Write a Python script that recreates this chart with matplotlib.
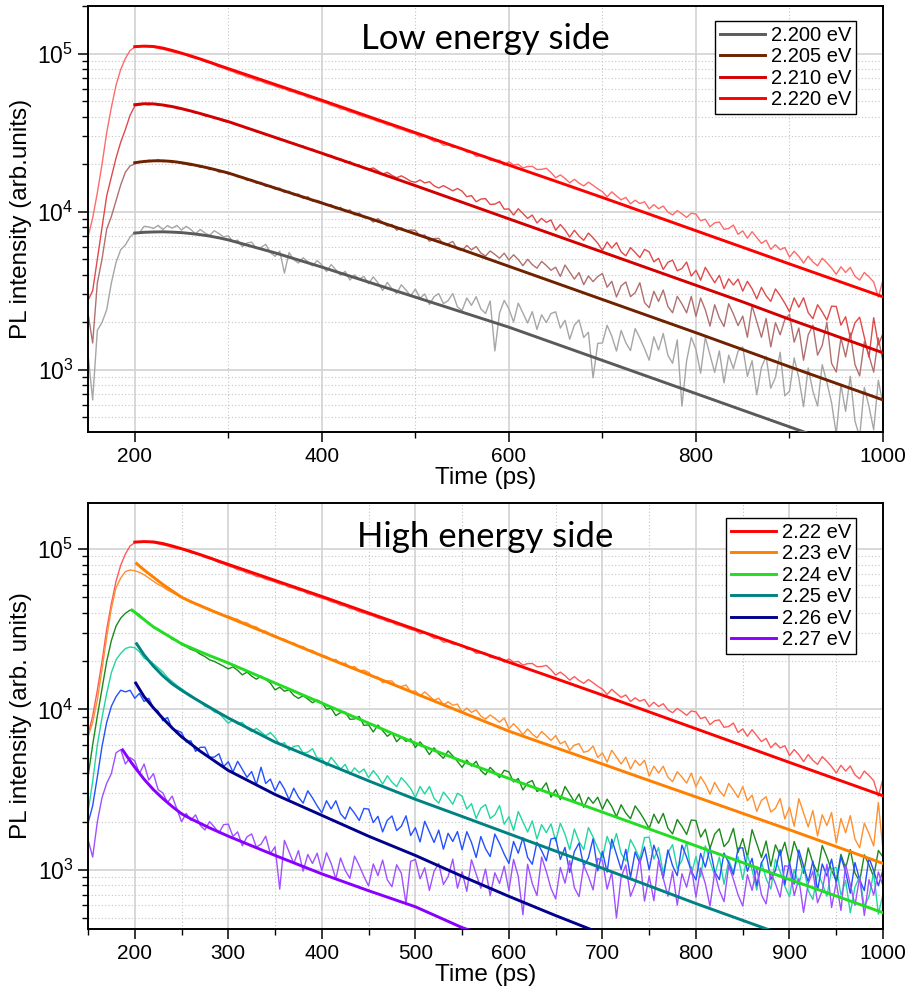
import numpy as np
import matplotlib
matplotlib.use("Agg")
import matplotlib.pyplot as plt
from matplotlib.ticker import LogLocator, NullFormatter, MultipleLocator

plt.rcParams['font.family'] = ['Liberation Sans', 'DejaVu Sans']

# -------------------------------------------------------------
# Data (intensities stored as log10 values)
# -------------------------------------------------------------
t_ps = np.arange(150, 1001, 5)   # streak-camera time grid (ps)

# measured traces, one row = 50 ps
log_data_2220 = [
    3.84, 3.96, 4.12, 4.30, 4.50, 4.66, 4.80, 4.90, 4.97, 5.02,
    5.040, 5.045, 5.045, 5.043, 5.040, 5.033, 5.027, 5.020, 5.011, 5.004,
    4.998, 4.990, 4.978, 4.970, 4.962, 4.948, 4.940, 4.930, 4.916, 4.908,
    4.895, 4.886, 4.872, 4.866, 4.851, 4.845, 4.830, 4.826, 4.812, 4.805,
    4.795, 4.783, 4.778, 4.762, 4.757, 4.744, 4.738, 4.722, 4.717, 4.703,
    4.694, 4.686, 4.672, 4.665, 4.650, 4.645, 4.630, 4.624, 4.610, 4.602,
    4.592, 4.583, 4.570, 4.563, 4.549, 4.544, 4.528, 4.522, 4.510, 4.499,
    4.493, 4.472, 4.480, 4.462, 4.444, 4.445, 4.420, 4.424, 4.408, 4.407,
    4.401, 4.377, 4.376, 4.350, 4.354, 4.351, 4.326, 4.322, 4.326, 4.295,
    4.316, 4.296, 4.300, 4.277, 4.286, 4.287, 4.267, 4.268, 4.275, 4.248,
    4.215, 4.233, 4.211, 4.183, 4.205, 4.181, 4.163, 4.187, 4.167, 4.145,
    4.127, 4.094, 4.126, 4.100, 4.075, 4.091, 4.050, 4.073, 4.052, 4.063,
    4.018, 4.045, 4.019, 4.036, 3.998, 3.980, 4.007, 3.987, 3.964, 3.991,
    3.985, 3.943, 3.953, 3.905, 3.930, 3.935, 3.889, 3.894, 3.916, 3.857,
    3.879, 3.833, 3.874, 3.837, 3.800, 3.820, 3.762, 3.791, 3.760, 3.774,
    3.713, 3.750, 3.718, 3.675, 3.719, 3.683, 3.658, 3.706, 3.677, 3.644,
    3.604, 3.652, 3.616, 3.648, 3.592, 3.568, 3.616, 3.588, 3.556, 3.460,
    3.570]

log_data_2210 = [
    3.44, 3.50, 3.70, 3.90, 4.10, 4.22, 4.34, 4.44, 4.52, 4.61,
    4.668, 4.675, 4.680, 4.676, 4.684, 4.672, 4.674, 4.664, 4.667, 4.652,
    4.650, 4.640, 4.638, 4.624, 4.622, 4.606, 4.606, 4.590, 4.589, 4.572,
    4.566, 4.558, 4.546, 4.541, 4.526, 4.521, 4.505, 4.502, 4.486, 4.478,
    4.468, 4.455, 4.452, 4.436, 4.434, 4.418, 4.415, 4.398, 4.396, 4.378,
    4.372, 4.354, 4.356, 4.334, 4.335, 4.312, 4.318, 4.292, 4.296, 4.274,
    4.269, 4.277, 4.259, 4.238, 4.249, 4.230, 4.215, 4.227, 4.211, 4.193,
    4.186, 4.201, 4.182, 4.190, 4.164, 4.150, 4.165, 4.149, 4.132, 4.147,
    4.130, 4.095, 4.102, 4.063, 4.080, 4.083, 4.046, 4.048, 4.064, 4.016,
    4.018, 3.979, 4.019, 3.988, 3.958, 3.979, 3.929, 3.958, 3.933, 3.948,
    3.883, 3.919, 3.885, 3.840, 3.883, 3.846, 3.819, 3.865, 3.835, 3.801,
    3.756, 3.809, 3.770, 3.805, 3.746, 3.721, 3.773, 3.743, 3.710, 3.762,
    3.746, 3.683, 3.706, 3.635, 3.680, 3.694, 3.627, 3.641, 3.682, 3.593,
    3.630, 3.567, 3.648, 3.600, 3.551, 3.598, 3.514, 3.576, 3.537, 3.574,
    3.498, 3.560, 3.513, 3.449, 3.522, 3.469, 3.433, 3.512, 3.470, 3.422,
    3.367, 3.455, 3.396, 3.456, 3.362, 3.324, 3.412, 3.367, 3.315, 3.403,
    3.401, 3.283, 3.336, 3.200, 3.298, 3.333, 3.206, 3.080, 3.330, 3.158,
    3.230]

log_data_2205 = [
    3.36, 3.17, 3.55, 3.70, 3.89, 3.97, 4.07, 4.17, 4.25, 4.29,
    4.302, 4.318, 4.312, 4.326, 4.318, 4.330, 4.316, 4.322, 4.310, 4.318,
    4.305, 4.300, 4.292, 4.298, 4.280, 4.285, 4.266, 4.272, 4.250, 4.255,
    4.238, 4.240, 4.220, 4.222, 4.198, 4.204, 4.180, 4.186, 4.160, 4.166,
    4.142, 4.150, 4.122, 4.130, 4.105, 4.112, 4.084, 4.095, 4.066, 4.072,
    4.060, 4.040, 4.045, 4.018, 4.028, 4.000, 4.012, 3.980, 3.992, 3.962,
    3.963, 3.934, 3.957, 3.933, 3.909, 3.920, 3.883, 3.899, 3.878, 3.885,
    3.882, 3.846, 3.853, 3.813, 3.830, 3.832, 3.795, 3.797, 3.812, 3.763,
    3.755, 3.787, 3.759, 3.780, 3.739, 3.720, 3.752, 3.730, 3.706, 3.738,
    3.694, 3.728, 3.698, 3.659, 3.699, 3.666, 3.643, 3.686, 3.660, 3.630,
    3.649, 3.591, 3.663, 3.619, 3.574, 3.615, 3.539, 3.594, 3.558, 3.590,
    3.609, 3.523, 3.560, 3.461, 3.531, 3.556, 3.463, 3.488, 3.551, 3.426,
    3.393, 3.497, 3.433, 3.505, 3.401, 3.361, 3.465, 3.417, 3.361, 3.465,
    3.338, 3.454, 3.380, 3.277, 3.412, 3.329, 3.274, 3.418, 3.354, 3.280,
    3.340, 3.206, 3.405, 3.306, 3.206, 3.325, 3.145, 3.299, 3.222, 3.318,
    3.351, 3.175, 3.265, 3.061, 3.221, 3.283, 3.093, 3.155, 3.301, 3.041,
    2.986, 3.202, 3.082, 3.234, 3.034, 2.962, 3.178, 3.090, 2.986, 3.202,
    3.050]

log_data_2200 = [
    3.10, 2.81, 3.25, 3.30, 3.38, 3.55, 3.68, 3.76, 3.79, 3.84,
    3.870, 3.866, 3.908, 3.904, 3.894, 3.914, 3.887, 3.912, 3.896, 3.913,
    3.884, 3.908, 3.887, 3.860, 3.888, 3.866, 3.850, 3.880, 3.862, 3.841,
    3.848, 3.811, 3.821, 3.779, 3.802, 3.808, 3.768, 3.774, 3.794, 3.742,
    3.718, 3.751, 3.612, 3.742, 3.697, 3.676, 3.709, 3.685, 3.658, 3.691,
    3.664, 3.622, 3.666, 3.633, 3.599, 3.623, 3.568, 3.601, 3.573, 3.591,
    3.545, 3.588, 3.551, 3.502, 3.553, 3.512, 3.483, 3.538, 3.505, 3.468,
    3.511, 3.453, 3.480, 3.413, 3.463, 3.482, 3.419, 3.438, 3.483, 3.398,
    3.376, 3.455, 3.408, 3.463, 3.386, 3.357, 3.436, 3.120, 3.360, 3.439,
    3.386, 3.303, 3.422, 3.360, 3.297, 3.368, 3.256, 3.348, 3.299, 3.356,
    3.367, 3.264, 3.313, 3.194, 3.283, 3.316, 3.205, 3.238, 2.950, 3.168,
    3.170, 3.282, 3.214, 3.119, 3.249, 3.172, 3.122, 3.261, 3.202, 3.134,
    3.061, 3.209, 3.126, 3.230, 3.092, 3.042, 3.190, 2.770, 3.057, 3.205,
    3.129, 2.979, 3.206, 3.095, 2.984, 3.120, 2.918, 3.093, 3.008, 3.118,
    3.145, 2.959, 3.058, 2.842, 3.016, 3.085, 2.884, 2.953, 3.112, 2.836,
    2.865, 3.076, 2.947, 2.767, 3.012, 2.866, 2.771, 3.033, 2.921, 2.792,
    2.593, 2.907, 2.738, 2.960, 2.676, 2.576, 2.890, 2.767, 2.621, 2.935,
    2.780]

log_data_2230 = [
    3.83, 3.92, 4.06, 4.25, 4.45, 4.63, 4.76, 4.82, 4.86, 4.87,
    4.865, 4.855, 4.840, 4.820, 4.800, 4.780, 4.765, 4.745, 4.730, 4.715,
    4.702, 4.688, 4.676, 4.662, 4.652, 4.638, 4.628, 4.612, 4.604, 4.588,
    4.582, 4.570, 4.562, 4.545, 4.540, 4.521, 4.515, 4.495, 4.488, 4.470,
    4.462, 4.445, 4.438, 4.420, 4.415, 4.395, 4.392, 4.372, 4.368, 4.350,
    4.340, 4.330, 4.310, 4.312, 4.285, 4.290, 4.262, 4.268, 4.240, 4.245,
    4.231, 4.200, 4.202, 4.167, 4.179, 4.178, 4.144, 4.143, 4.153, 4.111,
    4.116, 4.084, 4.110, 4.084, 4.058, 4.070, 4.030, 4.048, 4.026, 4.034,
    3.983, 4.009, 3.982, 3.998, 3.959, 3.940, 3.966, 3.945, 3.921, 3.947,
    3.880, 3.911, 3.881, 3.843, 3.879, 3.847, 3.823, 3.863, 3.836, 3.807,
    3.837, 3.786, 3.802, 3.745, 3.778, 3.787, 3.733, 3.742, 3.772, 3.701,
    3.729, 3.672, 3.746, 3.703, 3.660, 3.703, 3.628, 3.684, 3.650, 3.684,
    3.585, 3.647, 3.604, 3.646, 3.578, 3.550, 3.612, 3.579, 3.541, 3.603,
    3.518, 3.581, 3.535, 3.472, 3.546, 3.494, 3.459, 3.539, 3.498, 3.451,
    3.519, 3.431, 3.466, 3.365, 3.433, 3.456, 3.361, 3.384, 3.445, 3.318,
    3.390, 3.272, 3.444, 3.356, 3.268, 3.370, 3.212, 3.344, 3.276, 3.358,
    3.167, 3.320, 3.231, 3.338, 3.192, 3.138, 3.291, 3.226, 3.149, 3.420,
    3.120]

log_data_2240 = [
    3.58, 3.78, 3.96, 4.13, 4.30, 4.43, 4.52, 4.57, 4.60, 4.62,
    4.610, 4.590, 4.562, 4.540, 4.512, 4.500, 4.475, 4.465, 4.438, 4.430,
    4.405, 4.392, 4.375, 4.365, 4.345, 4.330, 4.310, 4.300, 4.285, 4.270,
    4.253, 4.266, 4.244, 4.216, 4.233, 4.208, 4.189, 4.208, 4.187, 4.165,
    4.122, 4.139, 4.114, 4.123, 4.088, 4.069, 4.086, 4.065, 4.042, 4.059,
    4.043, 4.002, 4.008, 3.962, 3.981, 3.983, 3.939, 3.941, 3.957, 3.901,
    3.904, 3.860, 3.903, 3.868, 3.833, 3.855, 3.799, 3.830, 3.801, 3.817,
    3.763, 3.798, 3.764, 3.719, 3.761, 3.723, 3.696, 3.742, 3.711, 3.676,
    3.639, 3.685, 3.647, 3.677, 3.619, 3.593, 3.639, 3.609, 3.575, 3.621,
    3.611, 3.548, 3.570, 3.498, 3.543, 3.557, 3.489, 3.503, 3.543, 3.453,
    3.500, 3.438, 3.520, 3.473, 3.425, 3.473, 3.390, 3.453, 3.415, 3.453,
    3.378, 3.441, 3.395, 3.332, 3.406, 3.354, 3.319, 3.399, 3.358, 3.311,
    3.257, 3.347, 3.290, 3.352, 3.260, 3.224, 3.314, 3.271, 3.221, 3.311,
    3.307, 3.204, 3.253, 3.134, 3.223, 3.256, 3.145, 3.178, 3.259, 3.108,
    3.195, 3.078, 3.251, 3.164, 3.077, 3.180, 3.023, 3.156, 3.089, 3.172,
    3.040, 3.177, 3.094, 2.978, 3.137, 3.043, 2.982, 3.152, 3.080, 2.997,
    2.932, 3.097, 3.010, 3.127, 2.980, 2.929, 3.094, 3.031, 2.956, 3.121,
    3.080]

log_data_2250 = [
    3.36, 3.55, 3.78, 3.95, 4.10, 4.23, 4.31, 4.35, 4.38, 4.39,
    4.385, 4.360, 4.320, 4.305, 4.285, 4.260, 4.235, 4.200, 4.175, 4.150,
    4.130, 4.108, 4.090, 4.065, 4.050, 4.020, 4.010, 3.985, 3.975, 3.945,
    3.915, 3.935, 3.909, 3.920, 3.882, 3.862, 3.882, 3.860, 3.836, 3.856,
    3.825, 3.783, 3.793, 3.745, 3.770, 3.775, 3.729, 3.734, 3.756, 3.697,
    3.696, 3.648, 3.702, 3.665, 3.628, 3.658, 3.596, 3.636, 3.606, 3.629,
    3.575, 3.619, 3.583, 3.535, 3.587, 3.547, 3.519, 3.575, 3.543, 3.507,
    3.451, 3.520, 3.473, 3.520, 3.446, 3.416, 3.485, 3.450, 3.409, 3.478,
    3.459, 3.379, 3.413, 3.321, 3.385, 3.407, 3.321, 3.343, 3.401, 3.285,
    3.331, 3.246, 3.364, 3.300, 3.236, 3.305, 3.192, 3.282, 3.232, 3.287,
    3.180, 3.291, 3.222, 3.126, 3.255, 3.177, 3.126, 3.264, 3.204, 3.135,
    3.075, 3.209, 3.133, 3.227, 3.101, 3.055, 3.189, 3.133, 3.067, 3.201,
    3.204, 3.067, 3.139, 2.980, 3.107, 3.157, 3.009, 3.059, 3.175, 2.972,
    3.083, 2.957, 3.150, 3.057, 2.964, 3.080, 2.910, 3.059, 2.988, 3.082,
    2.940, 3.090, 3.000, 2.874, 3.048, 2.946, 2.880, 3.066, 2.988, 2.898,
    2.833, 3.002, 2.908, 3.027, 2.871, 2.815, 2.984, 2.916, 2.835, 3.004,
    3.016, 2.842, 2.934, 2.732, 2.894, 2.958, 2.770, 2.834, 2.982, 2.724,
    2.850]

log_data_2260 = [
    3.29, 3.40, 3.58, 3.77, 3.92, 4.02, 4.08, 4.12, 4.11, 4.12,
    4.070, 4.100, 4.050, 4.070, 4.010, 3.990, 3.930, 3.950, 3.880, 3.870,
    3.857, 3.798, 3.805, 3.739, 3.764, 3.765, 3.702, 3.703, 3.724, 3.644,
    3.674, 3.610, 3.677, 3.627, 3.577, 3.613, 3.531, 3.640, 3.539, 3.566,
    3.493, 3.553, 3.504, 3.438, 3.509, 3.454, 3.416, 3.493, 3.449, 3.399,
    3.356, 3.431, 3.380, 3.431, 3.350, 3.317, 3.392, 3.353, 3.308, 3.383,
    3.379, 3.295, 3.334, 3.237, 3.309, 3.336, 3.245, 3.272, 3.337, 3.214,
    3.263, 3.174, 3.303, 3.237, 3.171, 3.248, 3.129, 3.228, 3.177, 3.239,
    3.125, 3.238, 3.171, 3.077, 3.208, 3.132, 3.083, 3.223, 3.165, 3.098,
    3.040, 3.177, 3.104, 3.201, 3.078, 3.035, 3.172, 3.119, 3.056, 3.193,
    3.199, 3.065, 3.140, 2.984, 3.114, 3.167, 3.022, 3.075, 3.194, 2.994,
    3.115, 2.986, 3.191, 3.097, 3.003, 3.128, 2.953, 3.112, 3.041, 3.143,
    3.000, 3.154, 3.068, 2.946, 3.124, 3.026, 2.964, 3.154, 3.080, 2.994,
    2.937, 3.103, 3.017, 3.135, 2.989, 2.939, 3.105, 3.043, 2.969, 3.135,
    3.138, 2.991, 3.072, 2.901, 3.042, 3.099, 2.940, 2.997, 3.126, 2.907,
    3.046, 2.911, 3.124, 3.025, 2.926, 3.055, 2.872, 3.037, 2.962, 3.067,
    2.915, 3.081, 2.987, 2.854, 3.046, 2.939, 2.871, 3.076, 2.995, 2.901,
    3.000]

log_data_2270 = [
    3.19, 3.08, 3.30, 3.45, 3.54, 3.60, 3.73, 3.75, 3.66, 3.70,
    3.680, 3.600, 3.660, 3.560, 3.600, 3.500, 3.480, 3.420, 3.460, 3.380,
    3.300, 3.352, 3.309, 3.343, 3.278, 3.249, 3.301, 3.268, 3.230, 3.282,
    3.285, 3.209, 3.237, 3.150, 3.206, 3.224, 3.142, 3.160, 3.210, 3.101,
    3.144, 2.880, 3.184, 3.112, 3.040, 3.120, 2.992, 3.096, 3.040, 3.104,
    2.995, 3.107, 3.039, 2.944, 3.074, 2.997, 2.947, 3.086, 3.027, 2.959,
    2.900, 3.037, 2.964, 3.061, 2.938, 2.895, 3.032, 2.979, 2.790, 3.053,
    3.065, 2.944, 3.013, 2.872, 2.991, 3.040, 2.909, 2.958, 3.067, 2.886,
    2.988, 2.866, 3.063, 2.974, 2.885, 3.005, 2.839, 2.982, 2.915, 3.023,
    2.870, 3.065, 2.960, 2.720, 3.035, 2.915, 2.840, 3.080, 2.990, 2.885,
    2.819, 3.015, 2.917, 3.057, 2.889, 2.833, 3.029, 2.959, 2.875, 3.071,
    3.060, 2.880, 2.985, 2.700, 2.955, 3.030, 2.835, 2.910, 3.075, 2.805,
    2.962, 2.808, 3.060, 2.948, 2.836, 2.990, 2.780, 2.976, 2.892, 3.018,
    2.830, 3.012, 2.914, 2.774, 2.984, 2.872, 2.802, 3.026, 2.942, 2.844,
    2.774, 2.970, 2.872, 3.012, 2.844, 2.788, 2.984, 2.914, 2.830, 3.026,
    3.020, 2.840, 2.945, 2.735, 2.915, 2.990, 2.795, 2.870, 3.035, 2.765,
    2.923, 2.747, 3.035, 2.907, 2.779, 2.955, 2.715, 2.939, 2.843, 2.987,
    2.900]

# fitted decay curves
fit_t_main = [200, 210, 220, 230, 240, 250, 260, 270, 280, 290, 300,
              350, 400, 450, 500, 550, 600, 650, 700, 750, 800, 850, 900, 950, 1000]
log_fit_2220 = [5.044, 5.047, 5.045, 5.035, 5.020, 5.003, 4.985, 4.966, 4.946, 4.925, 4.905,
                4.805, 4.705, 4.602, 4.500, 4.397, 4.295, 4.193, 4.090, 3.985, 3.880, 3.775, 3.670, 3.566, 3.462]
log_fit_2210 = [4.677, 4.683, 4.682, 4.675, 4.665, 4.652, 4.637, 4.621, 4.604, 4.587, 4.570,
                4.470, 4.370, 4.268, 4.165, 4.060, 3.955, 3.850, 3.745, 3.640, 3.535, 3.430, 3.320, 3.214, 3.108]
log_fit_2205 = [4.310, 4.318, 4.322, 4.322, 4.318, 4.310, 4.300, 4.288, 4.275, 4.260, 4.245,
                4.150, 4.055, 3.960, 3.860, 3.760, 3.655, 3.550, 3.445, 3.340, 3.235, 3.128, 3.020, 2.915, 2.810]
log_fit_2200 = [3.865, 3.870, 3.872, 3.873, 3.871, 3.868, 3.862, 3.855, 3.846, 3.835, 3.822,
                3.740, 3.650, 3.555, 3.460, 3.365, 3.270, 3.165, 3.060, 2.955, 2.850, 2.745, 2.640, 2.535, 2.430]

fit_t_2230 = [202, 210, 220, 230, 240, 250, 260, 270, 280, 290, 300,
              350, 400, 450, 500, 550, 600, 650, 700, 750, 800, 850, 900, 950, 1000]
log_fit_2230 = [4.910, 4.870, 4.825, 4.780, 4.740, 4.700, 4.672, 4.647, 4.622, 4.598, 4.575,
                4.455, 4.335, 4.218, 4.100, 3.982, 3.865, 3.762, 3.660, 3.557, 3.455, 3.352, 3.250, 3.145, 3.040]
fit_t_2240 = [197, 210, 220, 230, 240, 250, 260, 270, 280, 290, 300,
              350, 400, 450, 500, 550, 600, 650, 700, 750, 800, 850, 900, 950, 1000]
log_fit_2240 = [4.620, 4.560, 4.515, 4.480, 4.445, 4.410, 4.385, 4.360, 4.336, 4.313, 4.290,
                4.165, 4.040, 3.915, 3.790, 3.678, 3.570, 3.465, 3.360, 3.255, 3.150, 3.045, 2.940, 2.837, 2.733]
fit_t_2250 = [202, 210, 220, 230, 240, 250, 260, 270, 280, 290, 300,
              350, 400, 450, 500, 550, 600, 650, 700, 750, 800, 850, 900, 950, 1000]
log_fit_2250 = [4.410, 4.340, 4.270, 4.210, 4.160, 4.120, 4.083, 4.048, 4.014, 3.980, 3.947,
                3.797, 3.675, 3.555, 3.440, 3.333, 3.225, 3.117, 3.010, 2.900, 2.790, 2.685, 2.580, 2.470, 2.360]
fit_t_2260 = [201, 210, 220, 230, 240, 250, 260, 270, 280, 290, 300,
              350, 400, 450, 500, 550, 600, 650, 700]
log_fit_2260 = [4.165, 4.080, 4.010, 3.945, 3.885, 3.830, 3.785, 3.740, 3.700, 3.660, 3.620,
                3.470, 3.340, 3.210, 3.090, 2.960, 2.835, 2.715, 2.600]
fit_t_2270 = [187, 195, 200, 210, 220, 230, 240, 250, 260, 270, 280, 290, 300,
              350, 400, 450, 500, 550, 600]
log_fit_2270 = [3.748, 3.680, 3.640, 3.565, 3.500, 3.445, 3.395, 3.350, 3.318, 3.290, 3.262, 3.236, 3.210,
                3.090, 2.975, 2.870, 2.770, 2.640, 2.540]

# -------------------------------------------------------------
# Series definitions: label, data, fit t, fit, data colour, fit colour
# -------------------------------------------------------------
low_side = [
    ('2.200 eV', log_data_2200, fit_t_main, log_fit_2200, '#a6a6a6', '#5a5a5a'),
    ('2.205 eV', log_data_2205, fit_t_main, log_fit_2205, '#b07070', '#6e2200'),
    ('2.210 eV', log_data_2210, fit_t_main, log_fit_2210, '#e04a4a', '#d40000'),
    ('2.220 eV', log_data_2220, fit_t_main, log_fit_2220, '#ff6a6a', '#ff0000'),
]
high_side = [
    ('2.22 eV', log_data_2220, fit_t_main, log_fit_2220, '#ff5a5a', '#ff0000'),
    ('2.23 eV', log_data_2230, fit_t_2230, log_fit_2230, '#ff9030', '#ff8000'),
    ('2.24 eV', log_data_2240, fit_t_2240, log_fit_2240, '#1a8a1a', '#22dd22'),
    ('2.25 eV', log_data_2250, fit_t_2250, log_fit_2250, '#22d6a0', '#008282'),
    ('2.26 eV', log_data_2260, fit_t_2260, log_fit_2260, '#2450ff', '#00008c'),
    ('2.27 eV', log_data_2270, fit_t_2270, log_fit_2270, '#a050ff', '#8a00ff'),
]

for s in low_side + high_side:
    assert len(s[1]) == len(t_ps), (s[0], len(s[1]))
    assert len(s[2]) == len(s[3]), s[0]


def draw_panel(ax, series, title, ylabel, ylim, xmajor, xminor, title_y):
    handles = []
    for lab, dat, tf, fit, cdat, cfit in series:
        ax.plot(t_ps, 10 ** np.asarray(dat), color=cdat, lw=1.0, zorder=2)
    for lab, dat, tf, fit, cdat, cfit in series:
        h, = ax.plot(tf, 10 ** np.asarray(fit), color=cfit, lw=2.1, zorder=3, label=lab)
        handles.append(h)

    ax.set_yscale('log')
    ax.set_xlim(150, 1000)
    ax.set_ylim(*ylim)
    ax.xaxis.set_major_locator(MultipleLocator(xmajor))
    ax.xaxis.set_minor_locator(MultipleLocator(xminor))
    ax.yaxis.set_major_locator(LogLocator(base=10, numticks=10))
    ax.yaxis.set_minor_locator(LogLocator(base=10, subs=np.arange(2, 10), numticks=20))
    ax.yaxis.set_minor_formatter(NullFormatter())

    ax.set_axisbelow(True)
    ax.grid(which='major', color='#d2d2d2', lw=1.2, ls='-')
    ax.grid(which='minor', color='#c4c4c4', lw=0.8, ls=(0, (1, 2)))

    ax.tick_params(which='major', direction='out', length=7, width=1.1, labelsize=15)
    ax.tick_params(axis='y', which='major', labelsize=16.5)
    ax.tick_params(which='minor', direction='out', length=4, width=1.0)
    for sp in ax.spines.values():
        sp.set_linewidth(1.4)

    ax.set_xlabel('Time (ps)', fontsize=17.5, labelpad=1)
    ax.set_ylabel(ylabel, fontsize=17.5, labelpad=4)

    ax.text(0.5, title_y, title, transform=ax.transAxes, ha='center', va='center',
            fontsize=25, family=['Lato', 'DejaVu Sans'])

    leg = ax.legend(handles=handles, loc='upper right', bbox_to_anchor=(0.966, 0.965),
                    borderaxespad=0, fontsize=14.5, frameon=True, fancybox=False,
                    framealpha=1, edgecolor='black', handlelength=2.2,
                    handletextpad=0.3, labelspacing=0.12, borderpad=0.25)
    leg.get_frame().set_linewidth(1.0)


fig = plt.figure(figsize=(9.08, 9.96), dpi=100)
ax_top = fig.add_axes([0.0969, 0.5663, 0.8756, 0.4277])
ax_bot = fig.add_axes([0.0969, 0.0673, 0.8756, 0.4277])

draw_panel(ax_top, low_side, 'Low energy side', 'PL intensity (arb.units)',
           (405, 2.0e5), 200, 100, 0.922)
draw_panel(ax_bot, high_side, 'High energy side', 'PL intensity (arb. units)',
           (428, 1.94e5), 100, 50, 0.92)

fig.savefig('out.png', dpi=100)
